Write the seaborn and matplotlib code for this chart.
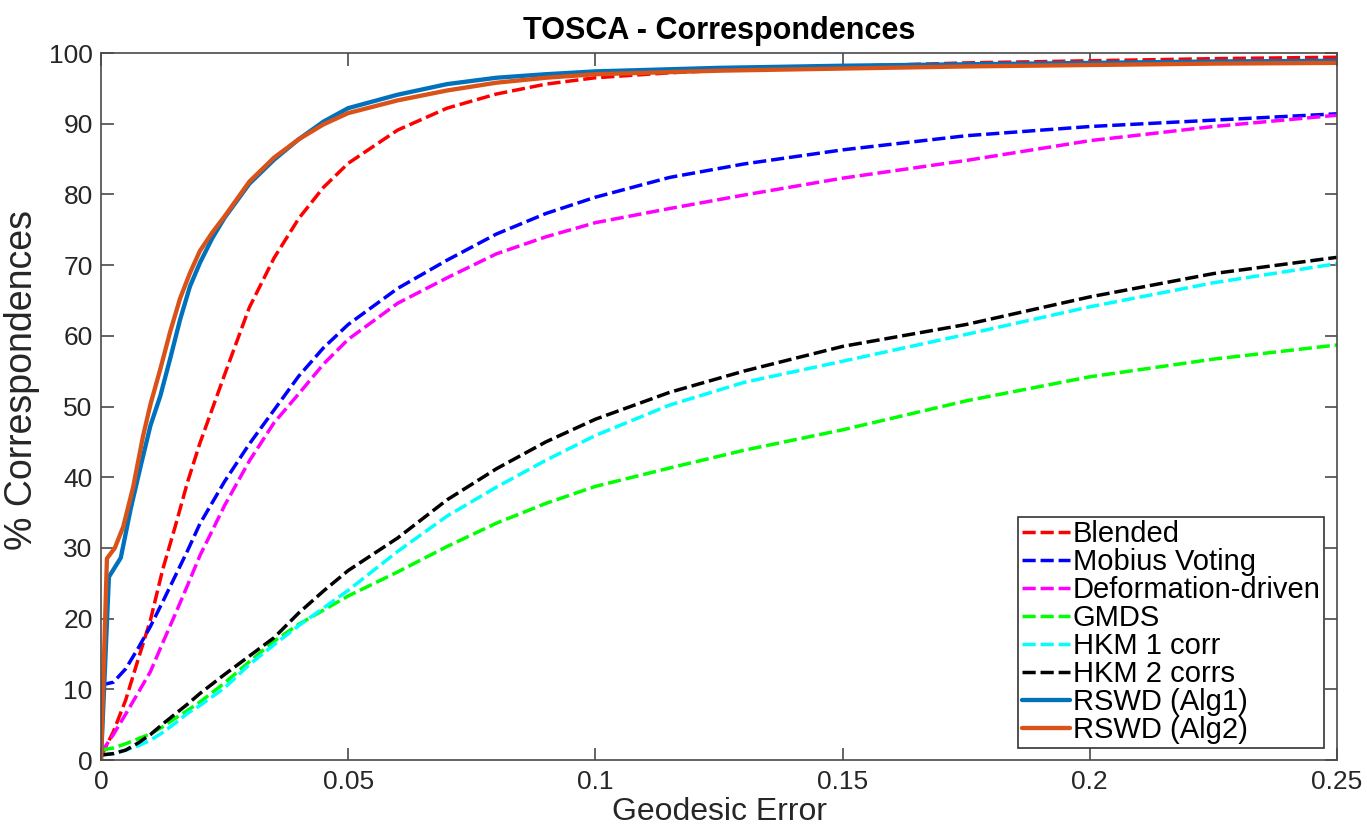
import numpy as np
import pandas as pd
import matplotlib
matplotlib.use("Agg")
import matplotlib.pyplot as plt
import seaborn as sns

# ---------------- data ----------------
ERR = [0, 0.0025, 0.005, 0.0075, 0.01, 0.0125, 0.015, 0.0175, 0.02, 0.025, 0.03,
       0.035, 0.04, 0.045, 0.05, 0.06, 0.07, 0.08, 0.09, 0.1, 0.115, 0.13, 0.15,
       0.175, 0.2, 0.225, 0.25]

BLENDED = [0.5, 4.0, 8.5, 14.2, 19.8, 27.0, 33.0, 39.3, 44.8, 54.5, 64.0, 71.0,
           76.6, 81.0, 84.4, 89.1, 92.2, 94.2, 95.6, 96.5, 97.2, 97.7, 98.1,
           98.6, 98.9, 99.2, 99.4]
MOBIUS = [10.6, 11.0, 12.9, 15.8, 18.9, 22.4, 26.0, 29.6, 33.4, 39.4, 44.7, 49.5,
          54.3, 58.3, 61.6, 66.7, 70.7, 74.4, 77.3, 79.6, 82.4, 84.3, 86.3, 88.3,
          89.6, 90.5, 91.4]
DEFORM = [1.0, 3.6, 6.5, 9.5, 12.5, 16.6, 20.6, 24.7, 28.9, 36.0, 42.3, 47.7,
          51.8, 56.0, 59.5, 64.6, 68.2, 71.6, 74.0, 76.0, 78.0, 79.9, 82.3, 84.8,
          87.6, 89.6, 91.2]
GMDS = [1.4, 1.7, 2.3, 3.0, 3.7, 4.7, 5.9, 7.0, 8.2, 10.9, 13.9, 16.8, 19.2,
        21.2, 23.2, 26.6, 30.2, 33.5, 36.3, 38.7, 41.3, 43.8, 46.7, 50.8, 54.2,
        56.7, 58.7]
HKM1 = [0.7, 0.9, 1.4, 2.0, 2.8, 3.9, 5.2, 6.6, 7.7, 10.2, 13.5, 16.3, 19.0,
        21.5, 24.0, 29.5, 34.5, 38.6, 42.4, 45.9, 50.2, 53.4, 56.4, 60.2, 64.1,
        67.5, 70.2]
HKM2 = [0.7, 0.9, 1.4, 2.4, 3.6, 5.1, 6.5, 7.9, 9.4, 12.1, 14.7, 17.3, 20.8,
        23.9, 26.8, 31.4, 36.8, 41.2, 45.0, 48.2, 52.0, 55.0, 58.5, 61.6, 65.5,
        68.8, 71.1]

ERR_ALG1 = [0, 0.0016, 0.004, 0.006, 0.008, 0.01, 0.012, 0.014, 0.016, 0.018,
            0.02, 0.0225, 0.025, 0.03, 0.035, 0.04, 0.045, 0.05, 0.06, 0.07, 0.08,
            0.09, 0.1, 0.125, 0.15, 0.175, 0.2, 0.225, 0.25]
ALG1 = [0, 25.9, 28.6, 35.5, 41.5, 47.3, 51.5, 56.8, 62.3, 67.0, 70.3, 73.8,
        76.7, 81.5, 84.9, 87.8, 90.3, 92.2, 94.1, 95.6, 96.5, 97.0, 97.4, 97.9,
        98.2, 98.4, 98.6, 98.8, 98.9]

ERR_ALG2 = [0, 0.0012, 0.0028, 0.0045, 0.0065, 0.0085, 0.01, 0.012, 0.014,
            0.016, 0.018, 0.02, 0.0225, 0.025, 0.03, 0.035, 0.04, 0.045, 0.05,
            0.06, 0.07, 0.08, 0.09, 0.1, 0.125, 0.15, 0.175, 0.2, 0.225, 0.25]
ALG2 = [0, 28.5, 30.0, 33.0, 38.6, 45.8, 50.3, 55.3, 60.6, 65.3, 68.9, 72.0,
        74.6, 76.9, 81.8, 85.2, 87.8, 89.9, 91.5, 93.3, 94.7, 95.8, 96.5, 97.0,
        97.5, 97.8, 98.1, 98.3, 98.5, 98.6]

LABELS = ["Blended", "Mobius Voting", "Deformation-driven", "GMDS",
          "HKM 1 corr", "HKM 2 corrs", "RSWD (Alg1)", "RSWD (Alg2)"]
XTICKS = [0, 0.05, 0.1, 0.15, 0.2, 0.25]
XTICKLABELS = ["0", "0.05", "0.1", "0.15", "0.2", "0.25"]
YTICKS = [0, 10, 20, 30, 40, 50, 60, 70, 80, 90, 100]
YTICKLABELS = [str(v) for v in YTICKS]

# ---------------- style ----------------
sns.set_style("ticks")
plt.rcParams["font.family"] = ["Liberation Sans", "DejaVu Sans"]

AX_COLOR = "#4a4a4a"
TXT_COLOR = "#262626"

fig = plt.figure(figsize=(13.67, 8.30), dpi=100)
ax = fig.add_axes([101 / 1367, 1 - 760 / 830, 1236 / 1367, 707 / 830])

dashed = (0, (3.8, 1.4))
series = [
    (ERR, BLENDED, "#ff0000", dashed, 2.5),
    (ERR, MOBIUS, "#0000ff", dashed, 2.5),
    (ERR, DEFORM, "#ff00ff", dashed, 2.5),
    (ERR, GMDS, "#00ff00", dashed, 2.5),
    (ERR, HKM1, "#00ffff", dashed, 2.5),
    (ERR, HKM2, "#000000", dashed, 2.5),
    (ERR_ALG1, ALG1, "#0072BD", "-", 3.1),
    (ERR_ALG2, ALG2, "#D95319", "-", 3.1),
]

for (xs, ys, col, ls, lw), lab in zip(series, LABELS):
    sns.lineplot(x=xs, y=ys, ax=ax, color=col, linestyle=ls, linewidth=lw,
                 label=lab, estimator=None, sort=False, legend=False)

ax.set_xlim(0, 0.25)
ax.set_ylim(0, 100)
ax.set_xticks(XTICKS)
ax.set_xticklabels(XTICKLABELS)
ax.set_yticks(YTICKS)
ax.set_yticklabels(YTICKLABELS)
ax.tick_params(axis="both", which="both", direction="in", length=9, width=1.2,
               color=AX_COLOR, labelcolor=TXT_COLOR, labelsize=19,
               top=True, right=True)
ax.tick_params(axis="x", pad=7)
ax.tick_params(axis="y", pad=6)
for sp in ax.spines.values():
    sp.set_visible(True)
    sp.set_color(AX_COLOR)
    sp.set_linewidth(1.2)

ax.set_xlabel("Geodesic Error", fontsize=23, color=TXT_COLOR, labelpad=2)
ax.set_ylabel("% Correspondences", fontsize=27, color=TXT_COLOR)
ax.yaxis.set_label_coords(-0.049, 0.537)
ax.set_title("TOSCA - Correspondences", fontsize=22, fontweight="bold",
             color="black", pad=10)

leg = ax.legend(loc="lower right", bbox_to_anchor=(0.9895, 0.017),
                borderaxespad=0, fontsize=21, handlelength=1.65,
                handletextpad=0.1, labelspacing=0.0, borderpad=0.12,
                fancybox=False, framealpha=1, edgecolor="#333333")
leg.get_frame().set_linewidth(1.2)
for t in leg.get_texts():
    t.set_color("black")

fig.savefig("out.png", dpi=100)
